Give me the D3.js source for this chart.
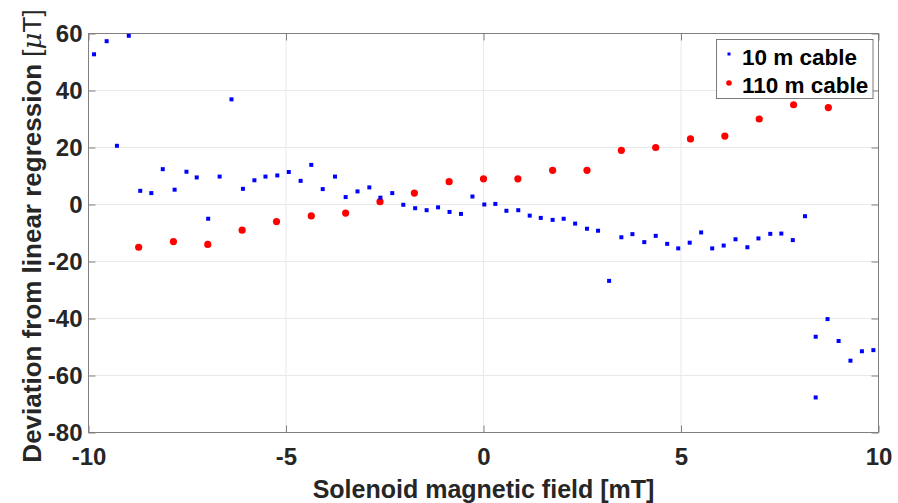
<!DOCTYPE html>
<html>
<head>
<meta charset="utf-8">
<script src="https://d3js.org/d3.v7.min.js"></script>
<style>
  body { margin: 0; background: #ffffff; }
  #scatter_chart { width: 898px; height: 503px; }
</style>
</head>
<body>
<div id="scatter_chart"></div>
<script>
// 10 m cable (blue squares)
var cable10_x = [-9.86, -9.54, -9.28, -8.98, -8.69, -8.41, -8.12, -7.82, -7.52, -7.26,
  -6.97, -6.68, -6.38, -6.09, -5.80, -5.52, -5.22, -4.93, -4.63, -4.36,
  -4.07, -3.76, -3.49, -3.19, -2.89, -2.61, -2.31, -2.03, -1.73, -1.44,
  -1.15, -0.86, -0.57, -0.28, 0.02, 0.30, 0.58, 0.88, 1.17, 1.45,
  1.75, 2.03, 2.32, 2.62, 2.90, 3.18, 3.49, 3.77, 4.07, 4.36,
  4.65, 4.93, 5.22, 5.51, 5.79, 6.08, 6.38, 6.68, 6.96, 7.26,
  7.54, 7.83, 8.14, 8.41, 8.41, 8.71, 8.99, 9.29, 9.58, 9.87];
var cable10_y = [52.7, 57.3, 20.6, 59.2, 4.8, 4.0, 12.4, 5.2, 11.5, 9.5,
  -5.0, 9.8, 36.9, 5.5, 8.5, 9.8, 10.2, 11.4, 8.3, 13.9,
  5.4, 9.8, 2.6, 4.6, 6.0, 2.4, 4.0, -0.1, -1.3, -2.0,
  -1.0, -2.6, -3.3, 2.8, 0.0, 0.2, -2.2, -2.0, -3.9, -4.7,
  -5.4, -5.0, -6.7, -8.5, -9.2, -26.8, -11.5, -10.4, -13.2, -11.0,
  -13.8, -15.4, -13.4, -9.8, -15.4, -14.4, -12.2, -15.0, -11.9, -10.3,
  -10.2, -12.5, -4.1, -46.4, -67.7, -40.2, -47.9, -54.8, -51.5, -51.1];

// 110 m cable (red dots)
var cable110_x = [-8.73, -7.85, -6.98, -6.11, -5.24, -4.36, -3.49, -2.62, -1.75, -0.87,
  0, 0.87, 1.75, 2.62, 3.49, 4.36, 5.24, 6.11, 6.98, 7.85, 8.73];
var cable110_y = [-15, -13, -14, -9, -6, -4, -3, 1, 4, 8,
  9, 9, 12, 12, 19, 20, 23, 24, 30, 35, 34];

var xTicks = [-10, -5, 0, 5, 10];
var yTicks = [-80, -60, -40, -20, 0, 20, 40, 60];
var seriesNames = ["10 m cable", "110 m cable"];

// set the dimensions and margins of the graph
var margin = {top: 33.5, right: 19.5, bottom: 70.5, left: 88.5},
    width = 898 - margin.left - margin.right,
    height = 503 - margin.top - margin.bottom;

var svg = d3.select("#scatter_chart")
  .append("svg")
  .attr("width", 898)
  .attr("height", 503)
  .style("font-family", "'Liberation Sans', Arial, Helvetica, sans-serif")
  .append("g")
  .attr("transform", "translate(" + margin.left + "," + margin.top + ")");

var x = d3.scaleLinear().domain([-10, 10]).range([0, width]);
var y = d3.scaleLinear().domain([-80, 60]).range([height, 0]);

// plain hyphen minus like the original
var plainFormat = function(d) { return String(d); };

// grid
svg.append("g").selectAll("line")
  .data(xTicks)
  .enter().append("line")
  .attr("x1", function(d) { return x(d); })
  .attr("x2", function(d) { return x(d); })
  .attr("y1", 0)
  .attr("y2", height)
  .attr("stroke", "#e9e9e9");
svg.append("g").selectAll("line")
  .data(yTicks)
  .enter().append("line")
  .attr("x1", 0)
  .attr("x2", width)
  .attr("y1", function(d) { return y(d); })
  .attr("y2", function(d) { return y(d); })
  .attr("stroke", "#e9e9e9");

// X axis (bottom + top ticks)
svg.append("g")
  .attr("transform", "translate(0," + height + ")")
  .call(d3.axisBottom(x).tickValues(xTicks).tickSize(-7).tickPadding(15).tickFormat(plainFormat));
svg.append("g")
  .call(d3.axisTop(x).tickValues(xTicks).tickSize(-7).tickFormat(""));

// Y axis (left + right ticks)
svg.append("g")
  .call(d3.axisLeft(y).tickValues(yTicks).tickSize(-7).tickPadding(6).tickFormat(plainFormat));
svg.append("g")
  .attr("transform", "translate(" + width + ",0)")
  .call(d3.axisRight(y).tickValues(yTicks).tickSize(-7).tickFormat(""));

svg.selectAll(".domain").remove();
svg.selectAll(".tick line").attr("stroke", "#808080");
svg.selectAll(".tick text")
  .attr("fill", "#262626")
  .style("font-size", "24px")
  .style("font-weight", "bold")
  .style("font-family", "'Liberation Sans', Arial, sans-serif");

// box
svg.append("rect")
  .attr("width", width)
  .attr("height", height)
  .attr("fill", "none")
  .attr("stroke", "#808080");

// 110 m cable dots
svg.append("g").selectAll("circle")
  .data(cable110_x)
  .enter().append("circle")
  .attr("cx", function(d) { return x(d); })
  .attr("cy", function(d, i) { return y(cable110_y[i]); })
  .attr("r", 3.6)
  .attr("fill", "#ff0000");

// 10 m cable squares
svg.append("g").selectAll("rect")
  .data(cable10_x)
  .enter().append("rect")
  .attr("x", function(d) { return x(d) - 2; })
  .attr("y", function(d, i) { return y(cable10_y[i]) - 2; })
  .attr("width", 4)
  .attr("height", 4)
  .attr("fill", "#0000ff");

// Legend
var legend = svg.append("g")
  .attr("transform", "translate(" + (716.5 - margin.left) + "," + (39.5 - margin.top) + ")");
legend.append("rect")
  .attr("width", 156.5)
  .attr("height", 59)
  .attr("fill", "white")
  .attr("stroke", "#7a7a7a");
legend.append("rect")
  .attr("x", 11)
  .attr("y", 13)
  .attr("width", 3)
  .attr("height", 3)
  .attr("fill", "#0000ff");
legend.append("circle")
  .attr("cx", 12.5)
  .attr("cy", 43.5)
  .attr("r", 2.8)
  .attr("fill", "#ff0000");
legend.selectAll("text")
  .data(seriesNames)
  .enter().append("text")
  .attr("x", 25.5)
  .attr("y", function(d, i) { return 25 + i * 28.5; })
  .style("font-size", "22.5px")
  .style("font-weight", "bold")
  .attr("fill", "#000000")
  .text(function(d) { return d; });

// X label
svg.append("text")
  .attr("x", x(0))
  .attr("y", 498 - margin.top)
  .attr("text-anchor", "middle")
  .style("font-size", "25px")
  .style("font-weight", "bold")
  .attr("fill", "#262626")
  .text("Solenoid magnetic field [mT]");

// Y label
var yLabel = svg.append("text")
  .attr("text-anchor", "middle")
  .attr("transform", "translate(" + (41 - margin.left) + "," + (236 - margin.top) + ")rotate(-90)")
  .style("font-size", "26px")
  .style("font-weight", "bold")
  .attr("fill", "#262626");
yLabel.append("tspan").text("Deviation from linear regression ");
yLabel.append("tspan").style("font-weight", "normal").text("[");
yLabel.append("tspan").style("font-weight", "normal").style("font-style", "italic").style("font-family", "'DejaVu Serif', serif").text("\u03bc");
yLabel.append("tspan").style("font-weight", "normal").text("T]");
</script>
</body>
</html>
